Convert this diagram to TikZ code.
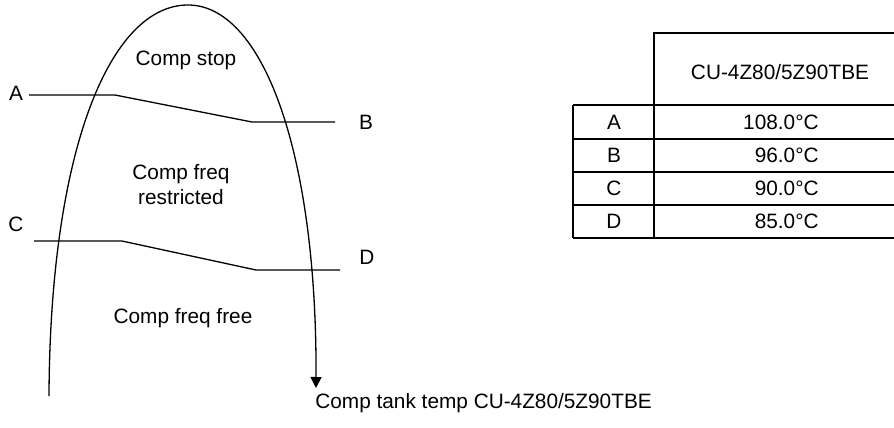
\documentclass[tikz,border=0pt]{standalone}
\usepackage{fontspec}
\setmainfont{Liberation Sans}
\usetikzlibrary{arrows.meta, positioning}

\begin{document}
\begin{tikzpicture}[
  x=0.5pt, y=-0.5pt,
  txt/.style={font=\fontsize{10.4}{12.5}\selectfont, inner sep=0pt, align=center},
  curve/.style={line width=0.65pt, -{Triangle[length=5.5pt, width=5.5pt]}},
  tline/.style={line width=0.65pt},
  grid/.style={line width=0.65pt}
]
\useasboundingbox (0,0) rectangle (894,428);

% Temperature curve
\draw[curve] (49,396) .. controls (50,150) and (110,5) .. (188,5)
  .. controls (262,5) and (317,150) .. (316,388);

% Zone labels
\node[txt] (stop) at (186,60) {Comp stop};
\node[txt] (restr) at (181,185) {Comp freq\\restricted};
\node[txt] (free) at (183,318) {Comp freq free};
\node[txt, anchor=west] (axis) at (315,403) {Comp tank temp CU-4Z80/5Z90TBE};

% Upper limit A-B
\node[txt] (A) at (16,93) {A};
\node[txt] (B) at (366,122) {B};
\coordinate (a0) at (29,95);
\coordinate (a1) at (115,95);
\coordinate (b1) at (252,122);
\coordinate (b0) at (335,122);
\draw[tline] (a0) -- (a1) -- (b1) -- (b0);

% Lower limit C-D
\node[txt] (C) at (16,224) {C};
\node[txt] (D) at (367,257) {D};
\coordinate (c0) at (34,241);
\coordinate (c1) at (122,241);
\coordinate (d1) at (256,270);
\coordinate (d0) at (340,270);
\draw[tline] (c0) -- (c1) -- (d1) -- (d0);

% Table
\draw[grid] (654,238) -- (654,33) -- (894,33);
\draw[grid] (573,105) -- (894,105);
\draw[grid] (573,139) -- (894,139);
\draw[grid] (573,172) -- (894,172);
\draw[grid] (573,205) -- (894,205);
\draw[grid] (573,238) -- (894,238);
\draw[grid] (573,105) -- (573,238);
\node[txt] (head) at (780,72) {CU-4Z80/5Z90TBE};
\node[txt] (rA) at (614,122) {A};
\node[txt] (rB) at (614,155.5) {B};
\node[txt] (rC) at (614,188.5) {C};
\node[txt] (rD) at (614,221.5) {D};
\node[txt, anchor=east] (vA) at (819,122) {108.0°C};
\node[txt, anchor=east] (vB) at (819,155.5) {96.0°C};
\node[txt, anchor=east] (vC) at (819,188.5) {90.0°C};
\node[txt, anchor=east] (vD) at (819,221.5) {85.0°C};

\end{tikzpicture}
\end{document}
